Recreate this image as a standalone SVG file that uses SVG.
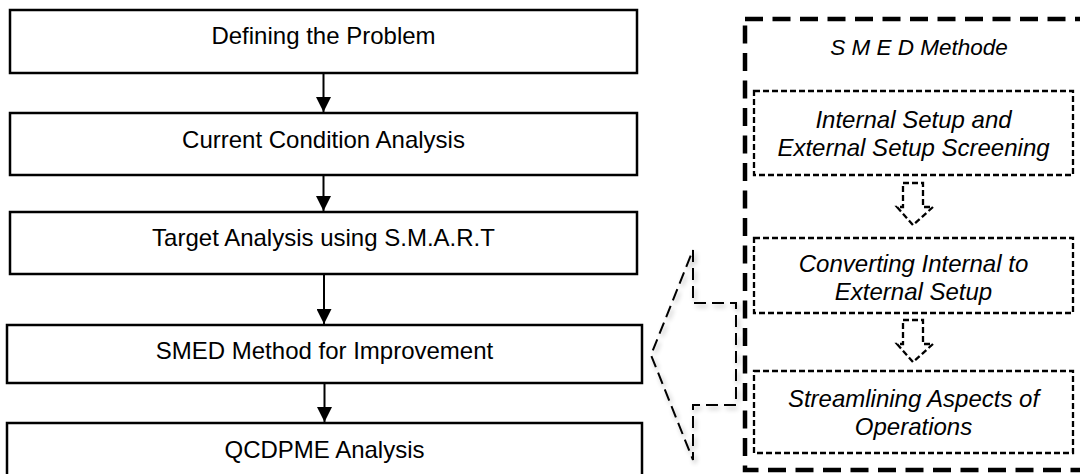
<svg xmlns="http://www.w3.org/2000/svg" width="1080" height="474" viewBox="0 0 1080 474">
  <style>
    .box { fill: #fff; stroke: #000; stroke-width: 2.5; }
    .lbl { font-family: "Liberation Sans", Arial, sans-serif; font-size: 24px; fill: #000; text-anchor: middle; }
    .it { font-style: italic; }
    .title { font-size: 22.5px; }
    .frame { fill: none; stroke: #000; stroke-width: 4.5; stroke-dasharray: 18 9.5; }
    .step { fill: #fff; stroke: #000; stroke-width: 2.3; stroke-dasharray: 6 3; }
    .hollow { fill: #fff; stroke: #000; stroke-width: 2.3; stroke-dasharray: 6 3; stroke-linejoin: miter; }
    .callout { fill: none; stroke: #000; stroke-width: 2; stroke-dasharray: 12 6; }
    .link { stroke: #000; stroke-width: 2; fill: none; }
  </style>
  <defs>
    <marker id="arrowhead" viewBox="0 0 15 15" refX="15" refY="7.5" markerWidth="15" markerHeight="15" markerUnits="userSpaceOnUse" orient="auto">
      <path d="M0,0 L15,7.5 L0,15 Z" fill="#000"/>
    </marker>
    <filter id="soft" x="-20%" y="-20%" width="140%" height="140%">
      <feGaussianBlur in="SourceAlpha" stdDeviation="2.5"/>
      <feOffset dx="2" dy="3" result="b"/>
      <feComponentTransfer><feFuncA type="linear" slope="0.3"/></feComponentTransfer>
      <feMerge><feMergeNode/><feMergeNode in="SourceGraphic"/></feMerge>
    </filter>
  </defs>

  <rect width="1080" height="474" fill="#fff"/>

  <!-- main process steps -->
  <g id="define">
    <rect class="box" x="10" y="10" width="627" height="63"/>
    <text class="lbl" x="323.5" y="44">Defining the Problem</text>
  </g>
  <g id="current">
    <rect class="box" x="10" y="113" width="627" height="62"/>
    <text class="lbl" x="323.5" y="148">Current Condition Analysis</text>
  </g>
  <g id="target">
    <rect class="box" x="10" y="212" width="627" height="62"/>
    <text class="lbl" x="323.5" y="246">Target Analysis using S.M.A.R.T</text>
  </g>
  <g id="smed">
    <rect class="box" x="7" y="325" width="635" height="58"/>
    <text class="lbl" x="324.5" y="359">SMED Method for Improvement</text>
  </g>
  <g id="qcdpme">
    <rect class="box" x="7" y="423" width="635" height="60"/>
    <text class="lbl" x="324.5" y="458">QCDPME Analysis</text>
  </g>

  <!-- SMED detail panel -->
  <g id="smed-panel">
    <rect class="frame" x="745" y="19" width="345" height="451"/>
    <text class="lbl it title" x="919" y="55">S M E D Methode</text>
  </g>
  <g id="screening">
    <rect class="step" x="754" y="91" width="319" height="84"/>
    <text class="lbl it" x="913.5" y="128">Internal Setup and</text>
    <text class="lbl it" x="913.5" y="156">External Setup Screening</text>
  </g>
  <g id="converting">
    <rect class="step" x="754" y="238" width="319" height="75"/>
    <text class="lbl it" x="913.5" y="272">Converting Internal to</text>
    <text class="lbl it" x="913.5" y="300">External Setup</text>
  </g>
  <g id="streamlining">
    <rect class="step" x="754" y="371" width="319" height="82"/>
    <text class="lbl it" x="913.5" y="407">Streamlining Aspects of</text>
    <text class="lbl it" x="913.5" y="435">Operations</text>
  </g>

  <!-- connectors -->
  <g id="connectors">
    <line class="link" x1="323.5" y1="74" x2="323.5" y2="112" marker-end="url(#arrowhead)"/>
    <line class="link" x1="323.5" y1="176" x2="323.5" y2="211" marker-end="url(#arrowhead)"/>
    <line class="link" x1="324" y1="275" x2="324" y2="324" marker-end="url(#arrowhead)"/>
    <line class="link" x1="324.5" y1="384" x2="324.5" y2="422" marker-end="url(#arrowhead)"/>
    <path class="hollow" d="M903,183 L923,183 L923,207 L933,207 L913,225 L897,207 L903,207 Z"/>
    <path class="hollow" d="M903,320 L923,320 L923,344 L933,344 L913,362 L897,344 L903,344 Z"/>
    <path class="callout" filter="url(#soft)" d="M693,250 L693,303 L736,303 L736,405 L693,405 L693,460 L651,355 Z"/>
  </g>
</svg>
